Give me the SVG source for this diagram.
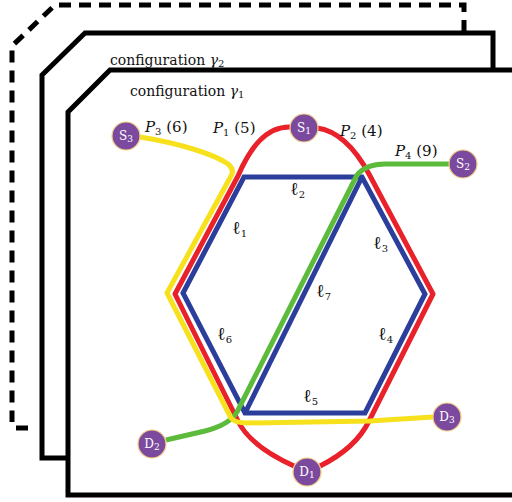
<svg xmlns="http://www.w3.org/2000/svg" width="512" height="502" viewBox="0 0 512 502">
<style>
.frame{fill:none;stroke:#000;stroke-width:5;stroke-linejoin:miter}
.dash{fill:none;stroke:#000;stroke-width:5;stroke-dasharray:12 8}
.cfg{font-family:"DejaVu Serif","Liberation Serif",serif;font-size:14px;fill:#111}
.lbl{font-family:"DejaVu Serif","Liberation Serif",serif;font-size:15px;fill:#111}
.ell{font-size:18px}
.it{font-style:italic}
.sub{font-size:10px}
.path{fill:none;stroke-width:5;stroke-linejoin:round;stroke-linecap:butt}
.node circle{fill:#7B4A9E;stroke:#F2CF86;stroke-width:1.2}
.node text{font-family:"DejaVu Serif","Liberation Serif",serif;font-size:12px;fill:#fff;text-anchor:middle}
</style>
<rect width="512" height="502" fill="#fff"/>
<g id="frames">
<path class="dash" d="M464,32 V5 H55 L12,46 V422"/>
<path class="dash" d="M16,428 H28"/>
<path class="frame" d="M68,458 H42 V75 L85,33 H493 V70"/>
<path class="frame" d="M514,70 H110 L68,112 V495 H514"/>
<text class="cfg" x="110" y="64.5">configuration <tspan class="it">γ</tspan><tspan class="sub" dy="2">2</tspan></text>
<text class="cfg" x="130" y="96">configuration <tspan class="it">γ</tspan><tspan class="sub" dy="2">1</tspan></text>
</g>
<g id="connectors">
<g id="links" class="path" stroke="#2C3E9C">
<polygon points="244,177 362,177 425,294 365,413 245,413 183,293" stroke-linejoin="miter"/>
<path d="M362,177 L245,413"/>
</g>
<g id="P1P2" class="path" stroke="#E8212A">
<path d="M291,127 C266,126 250,148 238,176 L175,294 L238,421 Q250,446 294,466"/>
<path d="M317,128 C340,131 356,150 369,174 L433,294 L369,421 Q356,448 320,466"/>
</g>
<path id="P4" class="path" stroke="#5DBB3C" d="M449,164 L385,164 Q366,164 357,175 L237,412 Q229,425 205,431 L166,440"/>
<path id="P3" class="path" stroke="#F7E11C" d="M140,137 C178,143 214,154 228,164 Q235,170 231,176 L167,293 L231,418 Q235,423 247,423 L370,421 L433,417"/>
</g>
<g id="labels" class="lbl">
<text x="145" y="132"><tspan class="it">P</tspan><tspan class="sub" dy="3">3</tspan><tspan dy="-3"> (6)</tspan></text>
<text x="213" y="133"><tspan class="it">P</tspan><tspan class="sub" dy="3">1</tspan><tspan dy="-3"> (5)</tspan></text>
<text x="340" y="136"><tspan class="it">P</tspan><tspan class="sub" dy="3">2</tspan><tspan dy="-3"> (4)</tspan></text>
<text x="395" y="156"><tspan class="it">P</tspan><tspan class="sub" dy="3">4</tspan><tspan dy="-3"> (9)</tspan></text>
<text x="290" y="195"><tspan class="ell">ℓ</tspan><tspan class="sub" dy="3">2</tspan></text>
<text x="232" y="234"><tspan class="ell">ℓ</tspan><tspan class="sub" dy="3">1</tspan></text>
<text x="373" y="249"><tspan class="ell">ℓ</tspan><tspan class="sub" dy="3">3</tspan></text>
<text x="316" y="297"><tspan class="ell">ℓ</tspan><tspan class="sub" dy="3">7</tspan></text>
<text x="217" y="340"><tspan class="ell">ℓ</tspan><tspan class="sub" dy="3">6</tspan></text>
<text x="378" y="340"><tspan class="ell">ℓ</tspan><tspan class="sub" dy="3">4</tspan></text>
<text x="303" y="402"><tspan class="ell">ℓ</tspan><tspan class="sub" dy="3">5</tspan></text>
</g>
<g id="S3" class="node"><circle cx="126" cy="136" r="14"/><text x="126" y="140">S<tspan font-size="9" dy="2">3</tspan></text></g>
<g id="S1" class="node"><circle cx="304" cy="128" r="14"/><text x="304" y="132">S<tspan font-size="9" dy="2">1</tspan></text></g>
<g id="S2" class="node"><circle cx="463" cy="164" r="14"/><text x="463" y="168">S<tspan font-size="9" dy="2">2</tspan></text></g>
<g id="D2" class="node"><circle cx="152" cy="444" r="14"/><text x="152" y="448">D<tspan font-size="9" dy="2">2</tspan></text></g>
<g id="D1" class="node"><circle cx="307" cy="472" r="14"/><text x="307" y="476">D<tspan font-size="9" dy="2">1</tspan></text></g>
<g id="D3" class="node"><circle cx="447" cy="417" r="14"/><text x="447" y="421">D<tspan font-size="9" dy="2">3</tspan></text></g>
</svg>
